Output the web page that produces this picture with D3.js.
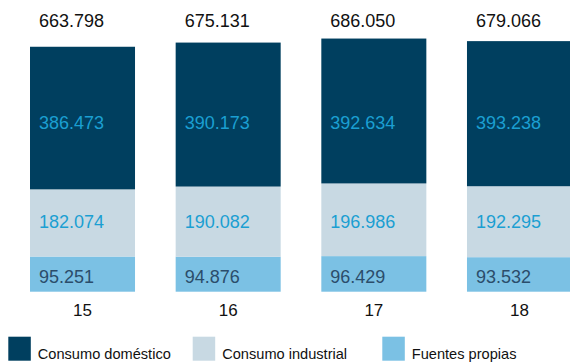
<!DOCTYPE html>
<html>
<head>
<meta charset="utf-8">
<script src="https://cdn.jsdelivr.net/npm/d3@7"></script>
<style>
  html, body { margin: 0; padding: 0; background: #fff; }
  svg { display: block; font-family: "Liberation Sans", Arial, Helvetica, sans-serif; }
</style>
</head>
<body>
<svg id="chart" width="570" height="363"></svg>
<script>
// Years (short form) shown under each bar
const categories = ["15", "16", "17", "18"];
// Thousands of m³ per source
const fuentesPropias = [95.251, 94.876, 96.429, 93.532];
const consumoIndustrial = [182.074, 190.082, 196.986, 192.295];
const consumoDomestico = [386.473, 390.173, 392.634, 393.238];
// Totals printed above the bars
const totals = [663.798, 675.131, 686.050, 679.066];
const seriesNames = ["Fuentes propias", "Consumo industrial", "Consumo doméstico"];

const fmt = v => d3.format(".3f")(v);

const svg = d3.select("#chart");

const x = d3.scaleBand()
  .domain(categories)
  .range([30, 572])
  .paddingInner(0.279)
  .paddingOuter(0);

const y = d3.scaleLinear()
  .domain([0, 700])
  .range([291.7, 33.4]);

const series = [
  { name: seriesNames[0], values: fuentesPropias, fill: "#7bc1e4", text: "#2b4d6b", dy: 8.5 },
  { name: seriesNames[1], values: consumoIndustrial, fill: "#c8d9e3", text: "#1b9fd2", dy: 6.8 },
  { name: seriesNames[2], values: consumoDomestico, fill: "#003f5f", text: "#1b9fd2", dy: 15 }
];

// Build stacked rows for d3.stack
const rows = categories.map((c, i) => {
  const r = { cat: c };
  series.forEach(s => { r[s.name] = s.values[i]; });
  return r;
});
const stacked = d3.stack().keys(seriesNames)(rows);

stacked.forEach((layer, li) => {
  const s = series[li];
  const g = svg.append("g");
  g.selectAll("rect")
    .data(layer)
    .join("rect")
    .attr("x", d => x(d.data.cat))
    .attr("width", x.bandwidth())
    .attr("y", d => y(d[1]))
    .attr("height", d => y(d[0]) - y(d[1]))
    .attr("fill", s.fill);

  // Labels of one series share a common row, at the mean segment middle
  const rowY = d3.mean(layer, d => (y(d[0]) + y(d[1])) / 2) + s.dy;
  g.selectAll("text")
    .data(layer)
    .join("text")
    .attr("x", d => x(d.data.cat) + 9)
    .attr("y", rowY)
    .attr("font-size", 18)
    .attr("fill", s.text)
    .text(d => fmt(d[1] - d[0]));
});

// Totals above bars
svg.append("g").selectAll("text")
  .data(categories)
  .join("text")
  .attr("x", c => x(c) + 9)
  .attr("y", 26.7)
  .attr("font-size", 18)
  .attr("fill", "#111")
  .text((c, i) => fmt(totals[i]));

// Category axis labels
const xAxis = d3.axisBottom(x).tickSize(0).tickPadding(0);
const axisG = svg.append("g")
  .attr("transform", "translate(0,304)")
  .call(xAxis);
axisG.select(".domain").remove();
axisG.selectAll("text")
  .attr("font-size", 17)
  .attr("fill", "#111")
  .attr("font-family", "Liberation Sans, Arial, sans-serif");

// Legend
const legendItems = [
  { name: "Consumo doméstico", fill: "#003f5f", x: 8.3 },
  { name: "Consumo industrial", fill: "#c8d9e3", x: 192.7 },
  { name: "Fuentes propias", fill: "#7bc1e4", x: 382.3 }
];
const lg = svg.append("g").selectAll("g")
  .data(legendItems)
  .join("g")
  .attr("transform", d => `translate(${d.x},336.7)`);
lg.append("rect")
  .attr("width", 22.5)
  .attr("height", 24)
  .attr("fill", d => d.fill);
lg.append("text")
  .attr("x", 29.5)
  .attr("y", 22.5)
  .attr("font-size", 14.6)
  .attr("fill", "#111")
  .text(d => d.name);
</script>
</body>
</html>
